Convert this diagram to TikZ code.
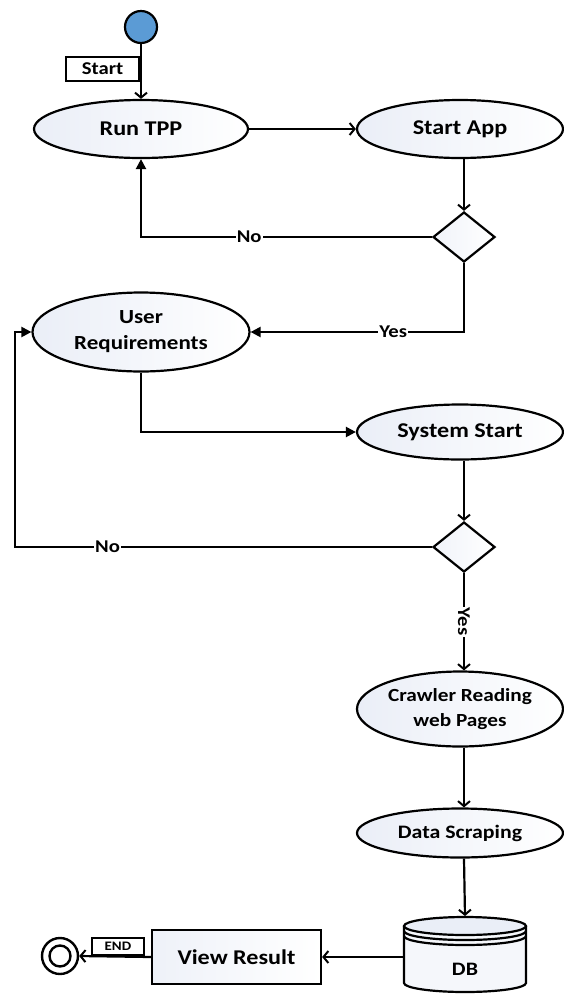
\documentclass[tikz,border=0pt]{standalone}
\usepackage{fontspec}
\setmainfont{Carlito}[FakeStretch=1.15]
\usetikzlibrary{shapes.geometric,arrows.meta,calc}

\definecolor{ellfill}{RGB}{234,238,247}
\definecolor{dotblue}{RGB}{91,155,213}

\newcommand{\fs}[1]{\bfseries\fontsize{#1}{1.3\dimexpr#1pt\relax}\selectfont}

\tikzset{
  every node/.style={font=\bfseries},
  wire/.style={line width=2.2pt},
  openhead/.style={wire,-{Straight Barb[length=5pt,width=12pt,line width=2pt]}},
  solidhead/.style={wire,-{Triangle[length=10pt,width=10pt]}},
  ell/.style={ellipse,draw,line width=2.2pt,inner sep=0pt,
              left color=ellfill,right color=white,
              font=\fs{21},align=center},
  choice/.style={diamond,draw,line width=2.2pt,inner sep=0pt,
                 minimum width=62pt,minimum height=50pt,
                 left color=ellfill!70,right color=white},
  tag/.style={draw,fill=white,line width=1.8pt,inner sep=0pt,font=\fs{18}},
  edgelabel/.style={fill=white,inner sep=1pt,font=\fs{18}},
}

\begin{document}
\begin{tikzpicture}[x=1pt,y=-1pt]
\useasboundingbox (0,0) rectangle (563,997);

% start and end markers
\node[circle,draw,line width=2.2pt,fill=dotblue,minimum size=32pt,inner sep=0pt] (init) at (141,27) {};
\node[circle,draw,line width=2.4pt,minimum size=36pt,inner sep=0pt] (final) at (60,956) {};
\node[circle,draw,line width=2.4pt,minimum size=21pt,inner sep=0pt] at (final.center) {};

% activities
\node[ell,minimum width=214pt,minimum height=58pt] (run) at (141,129) {Run TPP};
\node[ell,minimum width=206pt,minimum height=58pt] (app) at (460,129) {Start App};
\node[choice] (d1) at (464,237) {};
\node[ell,minimum width=217pt,minimum height=79pt,font=\fs{20}] (user) at (141,332) {User\\Requirements};
\node[ell,minimum width=206pt,minimum height=55pt] (sys) at (460,432) {System Start};
\node[choice] (d2) at (464,547) {};
\node[ell,minimum width=206pt,minimum height=75pt,font=\bfseries\fontsize{18.5}{25}\selectfont] (crawl) at (460,709) {Crawler Reading\\web Pages};
\node[ell,minimum width=206pt,minimum height=49pt,font=\fs{19}] (scrape) at (460,833) {Data Scraping};
\node[draw,line width=2.2pt,left color=ellfill!80,right color=white,
      minimum width=169pt,minimum height=54pt,inner sep=0pt,font=\fs{21}] (view) at (236.5,957) {View Result};

% database cylinder (y grows downwards, so front arcs run 180 -> 0)
\coordinate (dbtop) at (465,916);
\coordinate (dbleft) at (404,957);
\begin{scope}[line width=2.2pt]
  \fill[ellfill!50] (404,926) -- (404,983) arc[start angle=180,end angle=0,x radius=61,y radius=9]
        -- (526,926) arc[start angle=0,end angle=-180,x radius=61,y radius=9] -- cycle;
  \filldraw[fill=ellfill,draw=black] (465,926) ellipse[x radius=61,y radius=9];
  \draw (404,926) -- (404,983) arc[start angle=180,end angle=0,x radius=61,y radius=9] -- (526,926);
  \draw (404,931) arc[start angle=180,end angle=0,x radius=61,y radius=9];
  \draw (404,936) arc[start angle=180,end angle=0,x radius=61,y radius=9];
\end{scope}
\node[font=\fs{19}] (db) at (465,969) {DB};

% flow
\draw[openhead] (init) -- (run);
\node[tag,anchor=south east,minimum width=73pt,minimum height=24pt] (starttag) at (140,82) {Start};
\draw[openhead] (run) -- (app);
\draw[openhead] (d1.north |- app.south) -- (d1.north);
\draw[solidhead] (d1.west) -| node[edgelabel,pos=0.314] {No} (run.south);
\draw[solidhead] (d1.south) |- node[edgelabel,pos=0.666] {Yes} (user.east);
\draw[solidhead] (user.south) |- (sys.west);
\draw[openhead] (d2.north |- sys.south) -- (d2.north);
\draw[solidhead] (d2.west) -- node[edgelabel,pos=0.778] {No} (15,547) |- (user.west);
\draw[openhead] (d2.south) -- node[edgelabel,rotate=-90,pos=0.5] {Yes} (d2.south |- crawl.north);
\draw[openhead] (d2.south |- crawl.south) -- (d2.south |- scrape.north);
\draw[openhead] (d2.south |- scrape.south) -- (dbtop);
\draw[openhead] (dbleft) -- (view.east);
\draw[openhead] (view.west) -- (final.east);
\node[tag,anchor=south west,minimum width=52pt,minimum height=17pt,font=\fs{13}] (endtag) at (91,956) {END};
\end{tikzpicture}
\end{document}
